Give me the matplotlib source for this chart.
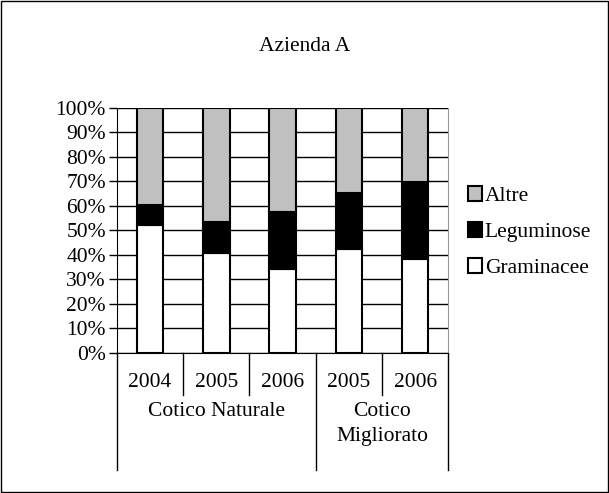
import numpy as np
import matplotlib.pyplot as plt
from matplotlib.patches import Rectangle, Patch

plt.rcParams['font.family'] = ['Liberation Serif', 'DejaVu Serif']

# data
years = ['2004', '2005', '2006', '2005', '2006']
groups = ['Cotico Naturale', 'Cotico\nMigliorato']
group_sizes = [3, 2]
graminacee = [52.4, 40.7, 34.4, 42.4, 38.5]
leguminose = [7.9, 12.8, 23.0, 22.9, 31.1]
altre = [100 - g - l for g, l in zip(graminacee, leguminose)]

FS = 15.5

def main():
    fig = plt.figure(figsize=(6.09, 4.93), dpi=100)
    ax = fig.add_axes([0.192, 0.284, 0.544, 0.497])

    x = np.arange(len(years))
    w = 0.4
    kw = dict(width=w, edgecolor='black', linewidth=1.5, zorder=3)
    ax.bar(x, graminacee, color='white', label='Graminacee', **kw)
    ax.bar(x, leguminose, bottom=graminacee, color='black', label='Leguminose', **kw)
    bottom2 = [g + l for g, l in zip(graminacee, leguminose)]
    ax.bar(x, altre, bottom=bottom2, color='#c0c0c0', label='Altre', **kw)

    ax.set_xlim(-0.5, len(years) - 0.5)
    ax.set_ylim(0, 100)
    ax.set_yticks(np.arange(0, 101, 10))
    ax.set_yticklabels(['%d%%' % v for v in range(0, 101, 10)], fontsize=FS)
    ax.yaxis.grid(True, color='black', linewidth=1)
    ax.set_axisbelow(True)
    ax.tick_params(axis='y', length=6, width=1, direction='out', pad=2)
    ax.set_xticks([])
    ax.spines['right'].set_color('#999999')
    ax.spines['top'].set_visible(False)

    # category table under the axis
    tr = ax.get_xaxis_transform()
    bounds = np.arange(len(years) + 1) - 0.5
    group_edges = np.concatenate([[0], np.cumsum(group_sizes)]) - 0.5
    for b in bounds:
        low = -0.478 if b in group_edges else -0.171
        ax.plot([b, b], [0, low], color='black', linewidth=1, transform=tr, clip_on=False)
    for i, y in enumerate(years):
        ax.text(i, -0.12, y, ha='center', va='center', fontsize=FS, transform=tr)
    for i, g in enumerate(groups):
        c = (group_edges[i] + group_edges[i + 1]) / 2
        yy = -0.237 if '\n' not in g else -0.29
        ax.text(c, yy, g, ha='center', va='center', fontsize=FS, transform=tr, linespacing=1.45)

    fig.text(0.5, 0.905, 'Azienda A', ha='center', va='center', fontsize=FS)

    handles = [Patch(facecolor='#c0c0c0', edgecolor='black', linewidth=1.5),
               Patch(facecolor='black', edgecolor='black', linewidth=1.5),
               Patch(facecolor='white', edgecolor='black', linewidth=1.5)]
    fig.legend(handles, ['Altre', 'Leguminose', 'Graminacee'], loc='center left',
               bbox_to_anchor=(0.768, 0.529), frameon=False, fontsize=FS,
               handlelength=0.65, handleheight=0.65, handletextpad=0.15, labelspacing=0.75,
               borderpad=0, borderaxespad=0)

    fig.patches.append(Rectangle((0.002, 0.002), 0.996, 0.996, transform=fig.transFigure,
                                 fill=False, edgecolor='black', linewidth=1))

    fig.savefig('out.png', dpi=100)

if __name__ == '__main__':
    main()
